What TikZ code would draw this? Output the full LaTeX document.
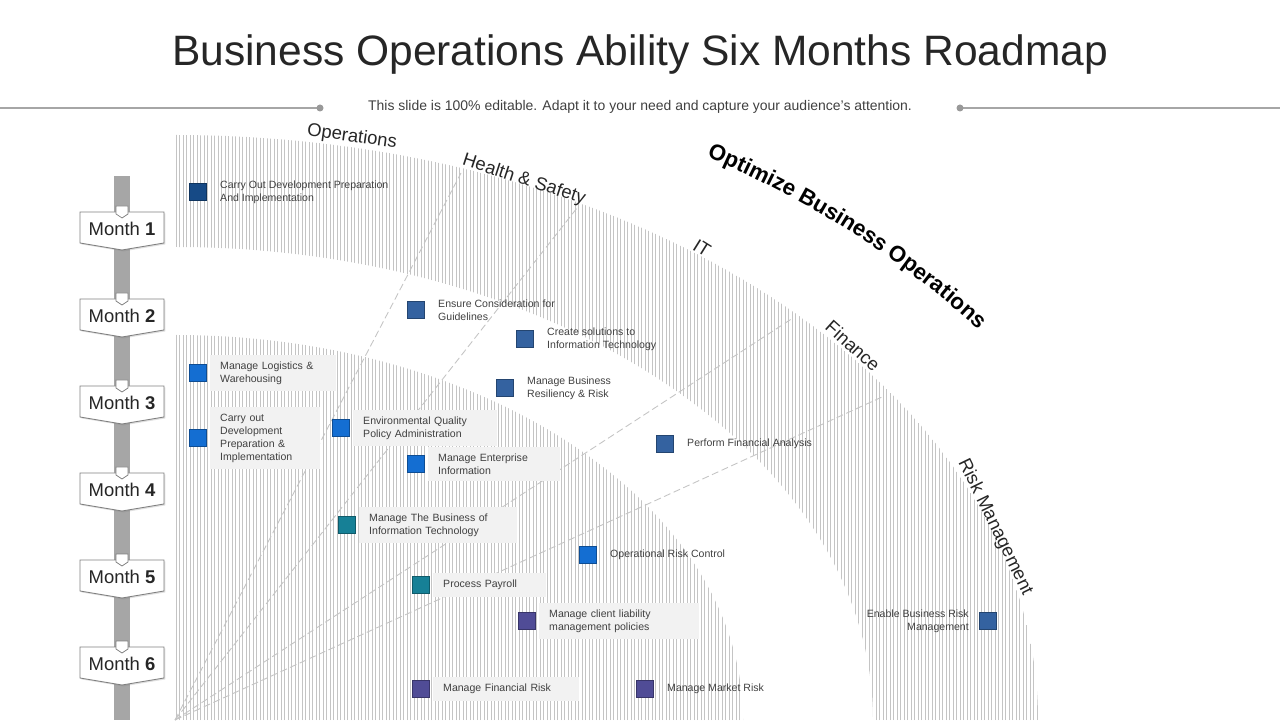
\documentclass[tikz,border=0pt]{standalone}
\usepackage{fontspec}
\setmainfont{Liberation Sans}
\usetikzlibrary{positioning,shadows,decorations.text}

\definecolor{titlegray}{HTML}{262626}
\definecolor{textgray}{HTML}{404040}
\definecolor{rulegray}{HTML}{A6A6A6}
\definecolor{dotgray}{HTML}{999999}
\definecolor{hatchgray}{HTML}{C4C4C4}
\definecolor{dashgray}{HTML}{C4C4C4}
\definecolor{boxgray}{HTML}{F2F2F2}
\definecolor{sqnavy}{RGB}{22,74,134}
\definecolor{sqsteel}{RGB}{52,98,160}
\definecolor{sqblue}{RGB}{20,110,210}
\definecolor{sqteal}{RGB}{22,128,150}
\definecolor{sqpurple}{RGB}{80,76,150}

\tikzset{
  titletext/.style={text=titlegray, font=\fontsize{24.2}{29}\selectfont, inner sep=0pt},
  subtext/.style={text=textgray, font=\fontsize{7.95}{9.5}\selectfont, inner sep=0pt},
  hatch/.style={hatchgray, line width=0.4pt},
  raydash/.style={dashgray, dash pattern=on 4pt off 2pt, line width=0.5pt},
  arealabel/.style={text=titlegray, font=\fontsize{10.5}{12}\selectfont, inner sep=0pt},
  monthbox/.style={draw=gray, fill=white, line width=0.5pt,
    drop shadow={shadow xshift=0.8pt, shadow yshift=-0.8pt, opacity=0.25}},
  monthtab/.style={draw=gray, fill=white, line width=0.4pt},
  monthlabel/.style={text=titlegray, font=\fontsize{10.5}{12}\selectfont, inner sep=0pt},
  sq/.style={minimum size=9.7pt, inner sep=0pt, draw=#1!70!black, fill=#1},
  plaintask/.style={inner sep=0pt, align=left, text=textgray, font=\fontsize{6}{7.4}\selectfont},
  boxtask/.style={plaintask, fill=boxgray, inner xsep=5.7pt, inner ysep=4pt, text width=#1},
}

\begin{document}
\begin{tikzpicture}[x=0.02cm, y=0.02cm]
  \useasboundingbox (0,0) rectangle (1280,720);

  % heading
  \node[titletext, anchor=base] (title) at (640,654) {Business Operations Ability Six Months Roadmap};
  \node[subtext, anchor=base] (sub) at (640,609) {This slide is 100\% editable. Adapt it to your need and capture your audience’s attention.};
  \coordinate (ruleL) at (320,612);
  \coordinate (ruleR) at (960,612);
  \draw[rulegray, line width=0.6pt] (0,612) -- (ruleL);
  \draw[rulegray, line width=0.6pt] (ruleR) -- (1280,612);
  \fill[dotgray] (ruleL) circle[radius=3.5];
  \fill[dotgray] (ruleR) circle[radius=3.5];

  % hatched bands
  \coordinate (ctr) at (175,0);
  \begin{scope}
    \clip (873,0) -- (1038,0) arc[start angle=0, end angle=90, x radius=863, y radius=585]
          -- (175,473) arc[start angle=90, end angle=0, x radius=698, y radius=473] -- cycle
          (175,0) -- (743,0) arc[start angle=0, end angle=90, x radius=568, y radius=385] -- cycle;
    \foreach \x in {176,179.5,...,1040}
      \draw[hatch] (\x,0) -- (\x,590);
  \end{scope}

  % rays
  \coordinate (ray1) at (461,547);
  \coordinate (ray2) at (577,512);
  \coordinate (ray3) at (793,402);
  \coordinate (ray4) at (882,323);
  \foreach \r in {1,...,4}
    \draw[raydash] (ctr) -- (ray\r);

  % area labels
  \node[arealabel, rotate=-8]  (lops)  at (352,583) {Operations};
  \node[arealabel, rotate=-18] (lhs)   at (524,540) {Health \& Safety};
  \node[arealabel, rotate=-32] (lit)   at (702,472) {IT};
  \node[arealabel, rotate=-42] (lfin)  at (853,374) {Finance};
  \node[arealabel, rotate=-64] (lrisk) at (995,193) {Risk Management};
  \path[decorate, decoration={text along path, text align=left,
      text={|\fontsize{12.7}{15}\selectfont\bfseries|Optimize Business Operations}}]
    (706.7,563.4) arc[start angle=57.5, end angle=5, x radius=990, y radius=668];

  % month timeline
  \fill[rulegray] (114,0) rectangle (130,544);
  \foreach \i in {1,...,6}{
    \coordinate (mc\i) at (122,{491-87*(\i-1)});
    \draw[monthbox, shift={(mc\i)}] (-42,17) -- (42,17) -- (42,-14) -- (0,-21) -- (-42,-14) -- cycle;
    \draw[monthtab, shift={(mc\i)}] (-6,23) -- (6,23) -- (6,15) -- (0,11) -- (-6,15) -- cycle;
    \node[monthlabel] (m\i) at (mc\i) {Month \textbf{\i}};
  }

  % tasks
  \node[sq=sqnavy]   (s1)  at (198,528) {};
  \node[plaintask, right=7.4pt of s1] (t1) {Carry Out Development Preparation\\And Implementation};
  \node[sq=sqsteel]  (s2)  at (416,410) {};
  \node[plaintask, right=7.4pt of s2] (t2) {Ensure Consideration for\\Guidelines};
  \node[sq=sqsteel]  (s3)  at (525,381) {};
  \node[plaintask, right=7.4pt of s3] (t3) {Create solutions to\\Information Technology};
  \node[sq=sqblue]   (s4)  at (198,347) {};
  \node[boxtask=60pt, right=1.7pt of s4] (t4) {Manage Logistics \&\\Warehousing};
  \node[sq=sqsteel]  (s5)  at (505,332) {};
  \node[plaintask, right=7.4pt of s5] (t5) {Manage Business\\Resiliency \& Risk};
  \node[sq=sqblue]   (s6)  at (198,282) {};
  \node[boxtask=51pt, right=1.7pt of s6] (t6) {Carry out\\Development\\Preparation \&\\Implementation};
  \node[sq=sqblue]   (s7)  at (341,292) {};
  \node[boxtask=70.6pt, right=1.7pt of s7] (t7) {Environmental Quality\\Policy Administration};
  \node[sq=sqblue]   (s8)  at (416,256) {};
  \node[boxtask=63.7pt, right=1.7pt of s8] (t8) {Manage Enterprise\\Information};
  \node[sq=sqsteel]  (s9)  at (665,276) {};
  \node[plaintask, right=7.4pt of s9] (t9) {Perform Financial Analysis};
  \node[sq=sqteal]   (s10) at (347,195) {};
  \node[boxtask=78.5pt, right=1.7pt of s10] (t10) {Manage The Business of\\Information Technology};
  \node[sq=sqblue]   (s11) at (588,165) {};
  \node[plaintask, right=7.4pt of s11] (t11) {Operational Risk Control};
  \node[sq=sqteal]   (s12) at (421,135) {};
  \node[boxtask=53pt, right=1.7pt of s12] (t12) {Process Payroll};
  \node[sq=sqpurple] (s13) at (527,99) {};
  \node[boxtask=79.7pt, right=1.7pt of s13] (t13) {Manage client liability\\management policies};
  \node[sq=sqsteel]  (s14) at (988,99) {};
  \node[plaintask, align=right, left=5.7pt of s14] (t14) {Enable Business Risk\\Management};
  \node[sq=sqpurple] (s15) at (421,31) {};
  \node[boxtask=71.7pt, right=1.7pt of s15] (t15) {Manage Financial Risk};
  \node[sq=sqpurple] (s16) at (645,31) {};
  \node[plaintask, right=7.4pt of s16] (t16) {Manage Market Risk};
\end{tikzpicture}
\end{document}
